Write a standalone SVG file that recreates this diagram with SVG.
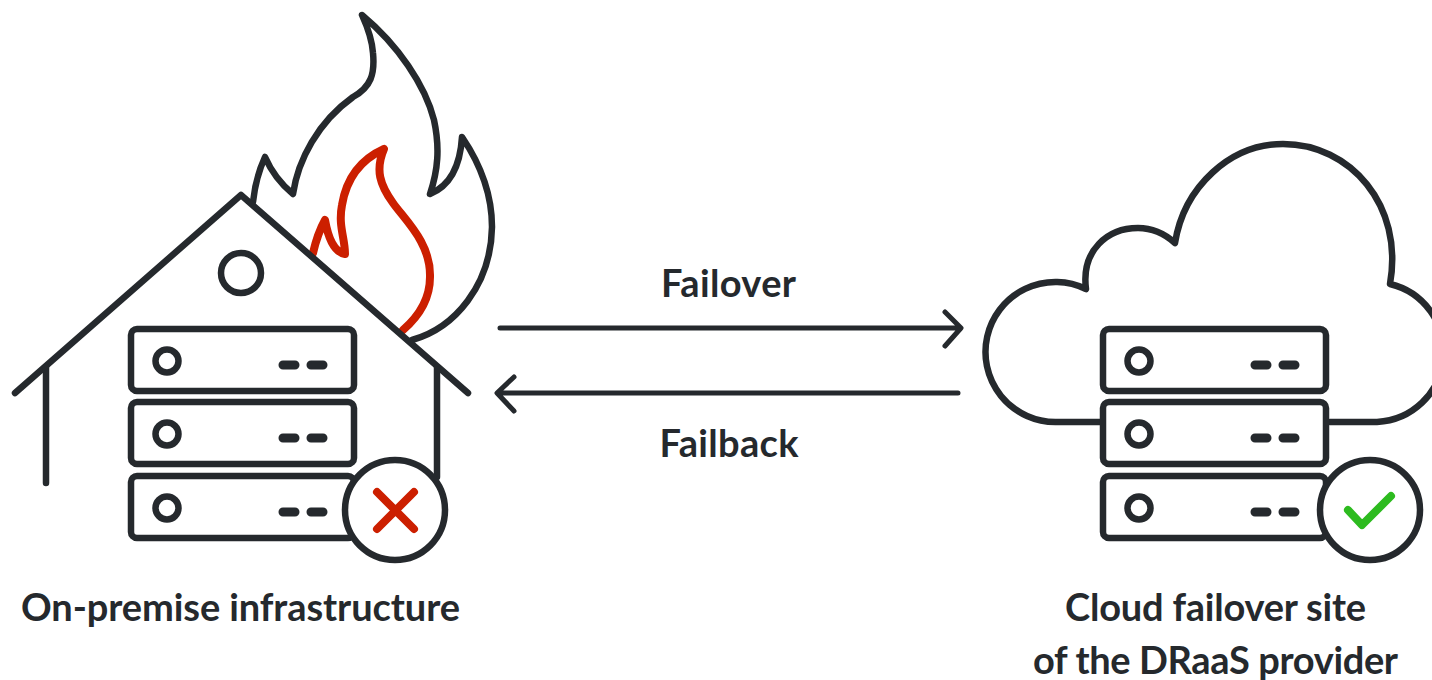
<svg xmlns="http://www.w3.org/2000/svg" width="1432" height="680" viewBox="0 0 1432 680">
<style>
.l{fill:none;stroke:#25292d;stroke-width:6.5;stroke-linecap:round;stroke-linejoin:round}
.w{fill:#fff;stroke:#25292d;stroke-width:6.5;stroke-linejoin:round}
.d{fill:none;stroke:#25292d;stroke-width:9;stroke-linecap:round}
.r{fill:none;stroke:#cc1f00;stroke-width:8;stroke-linecap:round;stroke-linejoin:round}
.g{fill:none;stroke:#2dbb1f;stroke-width:8;stroke-linecap:round;stroke-linejoin:round}
.a{fill:none;stroke:#25292d;stroke-width:5;stroke-linecap:round;stroke-linejoin:round}
text{font-family:Lato,"Liberation Sans",sans-serif;font-weight:700;font-size:38px;fill:#25292d;text-anchor:middle}
</style>
<defs>
<g id="srv">
<rect class="l" x="131" y="329" width="223" height="62" rx="6"/>
<circle class="l" cx="167" cy="361" r="11.5"/>
<path class="d" d="M283 365H295M311 365H323"/>
</g>
</defs>
<rect width="1432" height="680" fill="#fff"/>
<g id="house-node">
<path class="l" d="M253 202C255 184 259 170 265 157C272 173 282 185 293 194C298 160 318 122 353 97C371 87 375 74 373 53C372 38 367 26 362 15C398 45 425 85 434 120C440 148 438 170 430 194C447 187 460 170 462 137C481 165 492 195 492 227C491 285 455 328 412 340"/>
<path class="r" d="M313 253C316 240 320 229 325 220C328 237 334 252 345 254C345 238 338 226 342 205C347 175 364 158 384 149C375 170 380 185 393 203C405 220 431 243 430 277C430 300 418 317 403 330"/>
<path class="l" d="M15 393L241 195L468 393"/>
<path class="l" d="M46 367V483M437 367V477"/>
<circle class="l" cx="241" cy="273" r="20"/>
<use href="#srv"/>
<use href="#srv" y="73"/>
<use href="#srv" y="147"/>
<circle class="w" cx="395" cy="510" r="50"/>
<path class="r" d="M377 492L414 529M414 492L377 529"/>
<text x="240.500" y="621" textLength="439">On-premise infrastructure</text>
</g>
<g id="cloud-node">
<path class="l" d="M1102 422H1056A70 70 0 1 1 1086 289C1081 250 1108 228 1138 228C1152 228 1165 234 1175 243C1184 187 1230 144 1283 144C1350 144 1404 205 1390 284A70 70 0 0 1 1377 422H1330"/>
<use href="#srv" x="972"/>
<use href="#srv" x="972" y="73"/>
<use href="#srv" x="972" y="147"/>
<circle class="w" cx="1370" cy="510" r="50"/>
<path class="g" d="M1348 510L1362 525L1391 496"/>
<text x="1215.500" y="621" textLength="301">Cloud failover site</text>
<text x="1215.500" y="674" textLength="365">of the DRaaS provider</text>
</g>
<g id="connectors">
<path class="a" d="M500 328H960M945 312L961 328L945 346"/>
<path class="a" d="M958 393H498M514 377L497 393L514 411"/>
<text x="728.500" y="297" textLength="135">Failover</text>
<text x="729" y="457" textLength="139">Failback</text>
</g>
</svg>
